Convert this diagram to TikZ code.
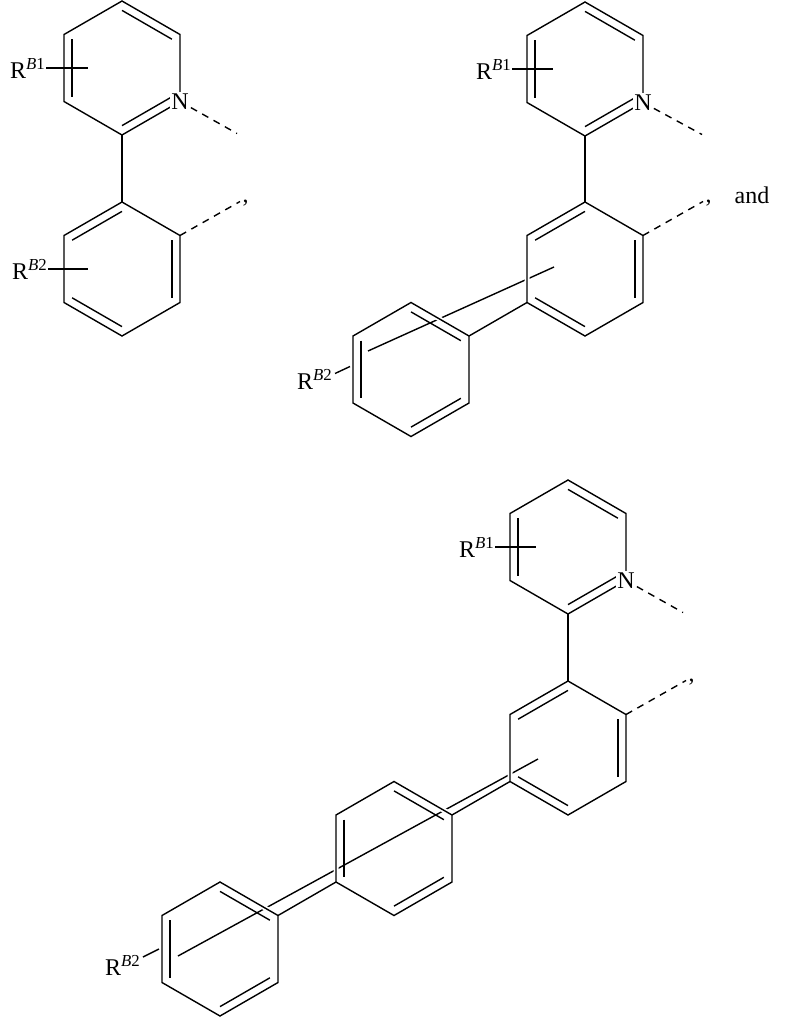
\documentclass[tikz,border=0pt]{standalone}
\usepackage{fontspec}
\setmainfont{Liberation Serif}
\usetikzlibrary{calc}
\newcommand\hexat[3]{%
 \coordinate (#1-C) at (#2,#3);
 \coordinate (#1-T) at (#2,#3-67);
 \coordinate (#1-UR) at (#2+58,#3-33.5);
 \coordinate (#1-LR) at (#2+58,#3+33.5);
 \coordinate (#1-B) at (#2,#3+67);
 \coordinate (#1-LL) at (#2-58,#3+33.5);
 \coordinate (#1-UL) at (#2-58,#3-33.5);}
\newcommand\ringdraw[1]{\draw[ring] (#1-T)--(#1-UR)--(#1-LR)--(#1-B)--(#1-LL)--(#1-UL)--cycle;}
\newcommand\dbl[3]{\draw ($(#1-#2)!0.14!(#1-C)$) -- ($(#1-#3)!0.14!(#1-C)$);}
\newcommand\Rlab[1]{R\textsuperscript{\textit{B}#1}}
\begin{document}
\begin{tikzpicture}[x=1pt,y=-1pt,line width=1.4pt,
  ring/.style={preaction={draw=white,line width=5pt},line join=miter},
  atom/.style={fill=white,inner sep=1.5pt,font=\fontsize{24}{24}\selectfont},
  lab/.style={inner sep=0pt,font=\fontsize{24}{24}\selectfont},
  dashbond/.style={dash pattern=on 7pt off 6pt}]
\useasboundingbox (0,0) rectangle (793,1018);
% ---------- structure 1
\hexat{pa}{122}{68}
\hexat{ba}{122}{269}
\ringdraw{pa}\ringdraw{ba}
\dbl{pa}{T}{UR}\dbl{pa}{UL}{LL}\dbl{pa}{LR}{B}
\dbl{ba}{T}{UL}\dbl{ba}{UR}{LR}\dbl{ba}{B}{LL}
\draw (pa-B) -- (ba-T);
\node[atom] (Na) at (pa-LR) {N};
\draw[dashbond] (Na) -- ($(pa-LR)+(57,32)$) coordinate (ea);
\draw[dashbond] (ba-UR) -- ($(ba-UR)+(60,-34)$) coordinate (fa);
\node[lab,anchor=north west] (ca) at ($(fa)+(2,-2)$) {,};
\coordinate (ra) at ($(pa-UL)!0.5!(pa-LL)$);
\draw ($(ra)+(-18,0)$) coordinate (ra1) -- ($(ra)+(24,0)$);
\node[lab,anchor=east] (Ra) at (ra1) {\Rlab{1}};
\coordinate (rb) at ($(ba-UL)!0.5!(ba-LL)$);
\draw ($(rb)+(-16,0)$) coordinate (rb1) -- ($(rb)+(24,0)$);
\node[lab,anchor=east] (Rb) at (rb1) {\Rlab{2}};
% ---------- structure 2
\hexat{pb}{585}{69}
\hexat{bb}{585}{269}
\hexat{lb}{411}{369.5}
\draw (368,351) -- (554,267);
\ringdraw{pb}\ringdraw{bb}\ringdraw{lb}
\dbl{pb}{T}{UR}\dbl{pb}{UL}{LL}\dbl{pb}{LR}{B}
\dbl{bb}{T}{UL}\dbl{bb}{UR}{LR}\dbl{bb}{B}{LL}
\dbl{lb}{T}{UR}\dbl{lb}{UL}{LL}\dbl{lb}{LR}{B}
\draw (pb-B) -- (bb-T);
\draw (bb-LL) -- (lb-UR);
\node[atom] (Nb) at (pb-LR) {N};
\draw[dashbond] (Nb) -- ($(pb-LR)+(59,32)$);
\draw[dashbond] (bb-UR) -- ($(bb-UR)+(60,-34)$) coordinate (fb);
\node[lab,anchor=north west] (cb) at ($(fb)+(2,-2)$) {,};
\node[lab,anchor=base] (andn) at (752,203) {and};
\coordinate (rc) at ($(pb-UL)!0.5!(pb-LL)$);
\draw ($(rc)+(-15,0)$) coordinate (rc1) -- ($(rc)+(26,0)$);
\node[lab,anchor=east] (Rc) at (rc1) {\Rlab{1}};
\draw ($(lb-UL)!0.5!(lb-LL)+(-18,4)$) coordinate (rd1) -- ($(lb-UL)!0.5!(lb-LL)+(-3,-3)$);
\node[lab,anchor=east] (Rd) at ($(rd1)+(-2,6)$) {\Rlab{2}};
% ---------- structure 3
\hexat{pc}{568}{547}
\hexat{bc}{568}{748}
\hexat{mc}{394}{848.5}
\hexat{lc}{220}{949}
\draw (178,956) -- (538,759);
\ringdraw{pc}\ringdraw{bc}\ringdraw{mc}\ringdraw{lc}
\dbl{pc}{T}{UR}\dbl{pc}{UL}{LL}\dbl{pc}{LR}{B}
\dbl{bc}{T}{UL}\dbl{bc}{UR}{LR}\dbl{bc}{B}{LL}
\dbl{mc}{T}{UR}\dbl{mc}{UL}{LL}\dbl{mc}{LR}{B}
\dbl{lc}{T}{UR}\dbl{lc}{UL}{LL}\dbl{lc}{LR}{B}
\draw (pc-B) -- (bc-T);
\draw (bc-LL) -- (mc-UR);
\draw (mc-LL) -- (lc-UR);
\node[atom] (Nc) at (pc-LR) {N};
\draw[dashbond] (Nc) -- ($(pc-LR)+(57,32)$);
\draw[dashbond] (bc-UR) -- ($(bc-UR)+(60,-34)$) coordinate (fc);
\node[lab,anchor=north west] (cc) at ($(fc)+(2,-2)$) {,};
\coordinate (re) at ($(pc-UL)!0.5!(pc-LL)$);
\draw ($(re)+(-15,0)$) coordinate (re1) -- ($(re)+(26,0)$);
\node[lab,anchor=east] (Re) at (re1) {\Rlab{1}};
\draw ($(lc-UL)!0.5!(lc-LL)+(-19,8)$) coordinate (rf1) -- ($(lc-UL)!0.5!(lc-LL)+(-3,0)$);
\node[lab,anchor=east] (Rf) at ($(rf1)+(-2,8)$) {\Rlab{2}};
\end{tikzpicture}
\end{document}
